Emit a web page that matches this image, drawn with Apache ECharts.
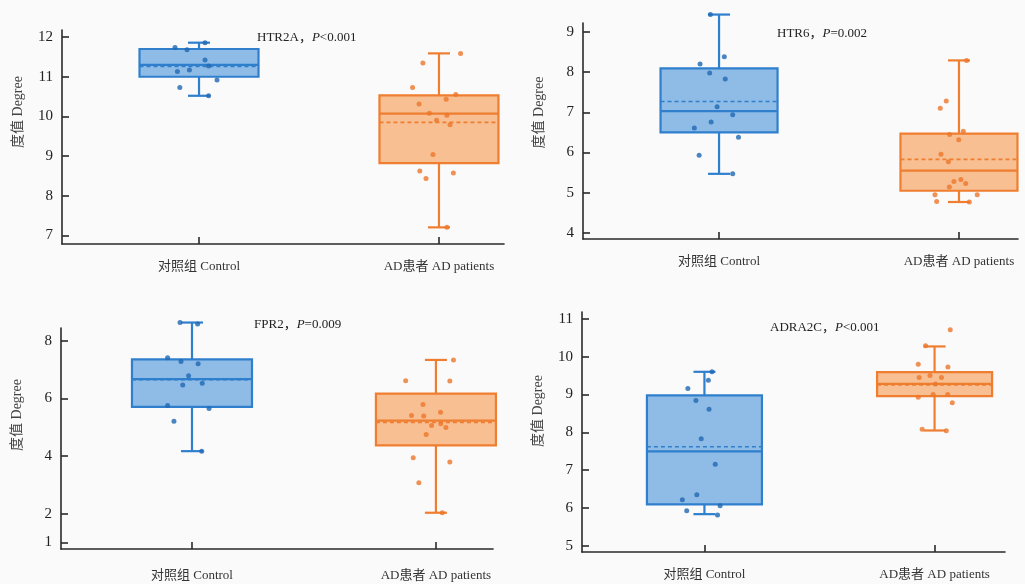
<!DOCTYPE html>
<html><head><meta charset="utf-8">
<script src="https://cdn.jsdelivr.net/npm/echarts@6/dist/echarts.min.js"></script>
<style>html,body{margin:0;padding:0;background:#fafafa}#c{width:1025px;height:584px}</style>
</head><body><div id="c"></div>
<script>
// ---------- data ----------
const groups = ['对照组 Control', 'AD患者 AD patients'];
const genes = ['HTR2A', 'HTR6', 'FPR2', 'ADRA2C'];
const pTexts = ['<0.001', '=0.002', '=0.009', '<0.001'];
const yAxisName = '度值 Degree';

const yTicksHTR2A = [7, 8, 9, 10, 11, 12];
const yTicksHTR6 = [4, 5, 6, 7, 8, 9];
const yTicksFPR2 = [1, 2, 4, 6, 8];
const yTicksADRA2C = [5, 6, 7, 8, 9, 10, 11];

// box stats: [min, Q1, median, Q3, max, mean]
const htr2aControlStats = [10.52, 11.0, 11.3, 11.7, 11.86, 11.26];
const htr2aADStats = [7.2, 8.82, 10.07, 10.53, 11.59, 9.85];
const htr6ControlStats = [5.47, 6.5, 7.03, 8.09, 9.43, 7.27];
const htr6ADStats = [4.77, 5.05, 5.55, 6.47, 8.29, 5.83];
const fpr2ControlStats = [4.17, 5.71, 6.67, 7.36, 8.64, 6.65];
const fpr2ADStats = [2.03, 4.37, 5.23, 6.17, 7.34, 5.17];
const adra2cControlStats = [5.84, 6.1, 7.5, 8.98, 9.6, 7.62];
const adra2cADStats = [8.05, 8.96, 9.28, 9.59, 10.27, 9.25];

// individual points: values and horizontal jitter (in group units)
const htr2aControlValues = [11.86, 11.74, 11.68, 11.42, 11.27, 11.17, 11.13, 10.92, 10.73, 10.52];
const htr2aControlJitter = [0.025, -0.1, -0.05, 0.025, 0.04, -0.04, -0.09, 0.075, -0.08, 0.04];
const htr2aADValues = [11.59, 11.35, 10.73, 10.55, 10.43, 10.31, 10.08, 10.03, 9.9, 9.79, 9.04, 8.62, 8.57, 8.43, 7.2];
const htr2aADJitter = [0.09, -0.067, -0.11, 0.07, 0.03, -0.083, -0.04, 0.033, -0.01, 0.046, -0.025, -0.08, 0.06, -0.054, 0.033];

const htr6ControlValues = [9.43, 8.38, 8.2, 7.98, 7.83, 7.14, 6.94, 6.76, 6.61, 6.38, 5.93, 5.47];
const htr6ControlJitter = [-0.036, 0.022, -0.079, -0.039, 0.026, -0.008, 0.057, -0.033, -0.103, 0.081, -0.083, 0.057];
const htr6ADValues = [8.29, 7.28, 7.1, 6.53, 6.45, 6.32, 5.96, 5.77, 5.33, 5.28, 5.23, 5.14, 4.95, 4.95, 4.78, 4.77];
const htr6ADJitter = [0.032, -0.053, -0.078, 0.018, -0.039, -0.001, -0.075, -0.044, 0.008, -0.021, 0.028, -0.04, -0.1, 0.076, -0.093, 0.043];

const fpr2ControlValues = [8.64, 8.59, 7.42, 7.29, 7.21, 6.79, 6.47, 6.53, 5.76, 5.65, 5.21, 4.17];
const fpr2ControlJitter = [-0.049, 0.023, -0.1, -0.045, 0.025, -0.014, -0.038, 0.042, -0.1, 0.07, -0.074, 0.04];
const fpr2ADValues = [7.34, 6.62, 6.61, 5.79, 5.52, 5.41, 5.39, 5.06, 5.12, 4.99, 4.75, 3.94, 3.79, 3.07, 2.03];
const fpr2ADJitter = [0.072, -0.124, 0.057, -0.053, 0.019, -0.1, -0.05, -0.018, 0.02, 0.041, -0.04, -0.093, 0.057, -0.07, 0.026];

const adra2cControlValues = [9.6, 9.38, 9.16, 8.84, 8.61, 7.83, 7.16, 6.35, 6.22, 6.06, 5.93, 5.82];
const adra2cControlJitter = [0.033, 0.017, -0.072, -0.037, 0.02, -0.014, 0.047, -0.033, -0.096, 0.068, -0.077, 0.057];
const adra2cADValues = [10.71, 10.29, 9.8, 9.73, 9.45, 9.5, 9.45, 9.28, 8.93, 9.0, 9.0, 8.78, 8.08, 8.04];
const adra2cADJitter = [0.068, -0.039, -0.071, 0.058, -0.067, -0.02, 0.03, 0.004, -0.071, -0.006, 0.057, 0.077, -0.054, 0.051];

// ---------- styles / layout ----------
const FONT = "'Liberation Serif', 'DejaVu Serif', 'Noto Sans CJK SC'";
const colors = [
  { line: '#2f7fcd', fill: '#8fbce6', dot: '#1f68b3' },
  { line: '#ef7e30', fill: '#f7bf92', dot: '#ec772a' }
];
const CAP_W = 22;

const panels = [
  { stats: [htr2aControlStats, htr2aADStats], vals: [htr2aControlValues, htr2aADValues], jit: [htr2aControlJitter, htr2aADJitter], ticks: yTicksHTR2A,
    grid: { left: 62, top: 30, width: 442, height: 214 }, x: [-0.571, 1.271], y: [6.78, 12.18], boxW: 119,
    title: { left: 252, top: 26 }, namePad: 50, labelMargin: 16 },
  { stats: [htr6ControlStats, htr6ADStats], vals: [htr6ControlValues, htr6ADValues], jit: [htr6ControlJitter, htr6ADJitter], ticks: yTicksHTR6,
    grid: { left: 583, top: 23, width: 435, height: 216 }, x: [-0.567, 1.246], y: [3.85, 9.22], boxW: 117,
    title: { left: 772, top: 22 }, namePad: 37, labelMargin: 16 },
  { stats: [fpr2ControlStats, fpr2ADStats], vals: [fpr2ControlValues, fpr2ADValues], jit: [fpr2ControlJitter, fpr2ADJitter], ticks: yTicksFPR2,
    grid: { left: 61, top: 328, width: 432, height: 221 }, x: [-0.537, 1.234], y: [0.77, 8.45], boxW: 120,
    title: { left: 249, top: 313 }, namePad: 47, labelMargin: 20 },
  { stats: [adra2cControlStats, adra2cADStats], vals: [adra2cControlValues, adra2cADValues], jit: [adra2cControlJitter, adra2cADJitter], ticks: yTicksADRA2C,
    grid: { left: 582, top: 312, width: 423, height: 240 }, x: [-0.532, 1.306], y: [4.84, 11.18], boxW: 115,
    title: { left: 765, top: 316 }, namePad: 42, labelMargin: 16 }
];

const option = { backgroundColor: '#fafafa', animation: false, title: [], grid: [], xAxis: [], yAxis: [], series: [] };

panels.forEach(function (p, i) {
  option.title.push({
    left: p.title.left, top: p.title.top,
    text: '{a|' + genes[i] + '，}{i|P}{a|' + pTexts[i] + '}',
    textStyle: { fontWeight: 'normal', rich: {
      a: { fontFamily: FONT, fontSize: 13, color: '#222', fontWeight: 'normal' },
      i: { fontFamily: FONT, fontSize: 13, color: '#222', fontStyle: 'italic', fontWeight: 'normal' }
    } }
  });
  option.grid.push(Object.assign({ containLabel: false }, p.grid));
  option.xAxis.push({
    type: 'value', gridIndex: i, min: p.x[0], max: p.x[1],
    axisLine: { onZero: false, lineStyle: { color: '#2a2a2a', width: 1.6 } },
    axisTick: { inside: true, length: 7, customValues: [0, 1], lineStyle: { color: '#2a2a2a', width: 1.6 } },
    axisLabel: { customValues: [0, 1], margin: p.labelMargin, fontFamily: FONT, fontSize: 13, color: '#333',
      formatter: function (v) { return groups[Math.round(v)]; } },
    splitLine: { show: false }
  });
  option.yAxis.push({
    type: 'value', gridIndex: i, min: p.y[0], max: p.y[1],
    name: yAxisName, nameLocation: 'middle', nameGap: 37,
    nameTextStyle: { fontFamily: FONT, fontSize: 14, color: '#444', padding: [0, 0, 0, p.namePad] },
    axisLine: { show: true, onZero: false, lineStyle: { color: '#2a2a2a', width: 1.6 } },
    axisTick: { show: true, inside: true, length: 7, customValues: p.ticks, lineStyle: { color: '#2a2a2a', width: 1.6 } },
    axisLabel: { customValues: p.ticks, margin: 9, fontFamily: FONT, fontSize: 15, color: '#222' },
    splitLine: { show: false }
  });

  const boxW = p.boxW;
  option.series.push({
    type: 'custom', xAxisIndex: i, yAxisIndex: i, z: 2, clip: false,
    data: p.stats.map(function (s, g) { return [g].concat(s); }),
    encode: { x: 0, y: [1, 2, 3, 4, 5, 6] },
    renderItem: function (params, api) {
      const g = api.value(0);
      const c = colors[g];
      const pt = function (k) { return api.coord([g, api.value(k)]); };
      const pMin = pt(1), pQ1 = pt(2), pMed = pt(3), pQ3 = pt(4), pMax = pt(5), pMean = pt(6);
      const cx = pMin[0], h = boxW / 2, cap = CAP_W / 2;
      const ls = { stroke: c.line, lineWidth: 2.2 };
      return { type: 'group', children: [
        { type: 'line', shape: { x1: cx, y1: pQ3[1], x2: cx, y2: pMax[1] }, style: ls },
        { type: 'line', shape: { x1: cx, y1: pQ1[1], x2: cx, y2: pMin[1] }, style: ls },
        { type: 'line', shape: { x1: cx - cap, y1: pMax[1], x2: cx + cap, y2: pMax[1] }, style: ls },
        { type: 'line', shape: { x1: cx - cap, y1: pMin[1], x2: cx + cap, y2: pMin[1] }, style: ls },
        { type: 'rect', shape: { x: cx - h, y: pQ3[1], width: boxW, height: pQ1[1] - pQ3[1] },
          style: { fill: c.fill, stroke: c.line, lineWidth: 2.2 } },
        { type: 'line', shape: { x1: cx - h, y1: pMed[1], x2: cx + h, y2: pMed[1] }, style: ls },
        { type: 'line', shape: { x1: cx - h, y1: pMean[1], x2: cx + h, y2: pMean[1] },
          style: { stroke: c.line, lineWidth: 1.6, lineDash: [4, 3] } }
      ] };
    }
  });
  [0, 1].forEach(function (g) {
    option.series.push({
      type: 'scatter', xAxisIndex: i, yAxisIndex: i, z: 5, clip: false,
      symbolSize: 5, itemStyle: { color: colors[g].dot },
      data: p.vals[g].map(function (v, k) { return [g + p.jit[g][k], v]; })
    });
  });
});

const chart = echarts.init(document.getElementById('c'), null, { renderer: 'canvas' });
chart.setOption(option);
</script>
</body></html>
